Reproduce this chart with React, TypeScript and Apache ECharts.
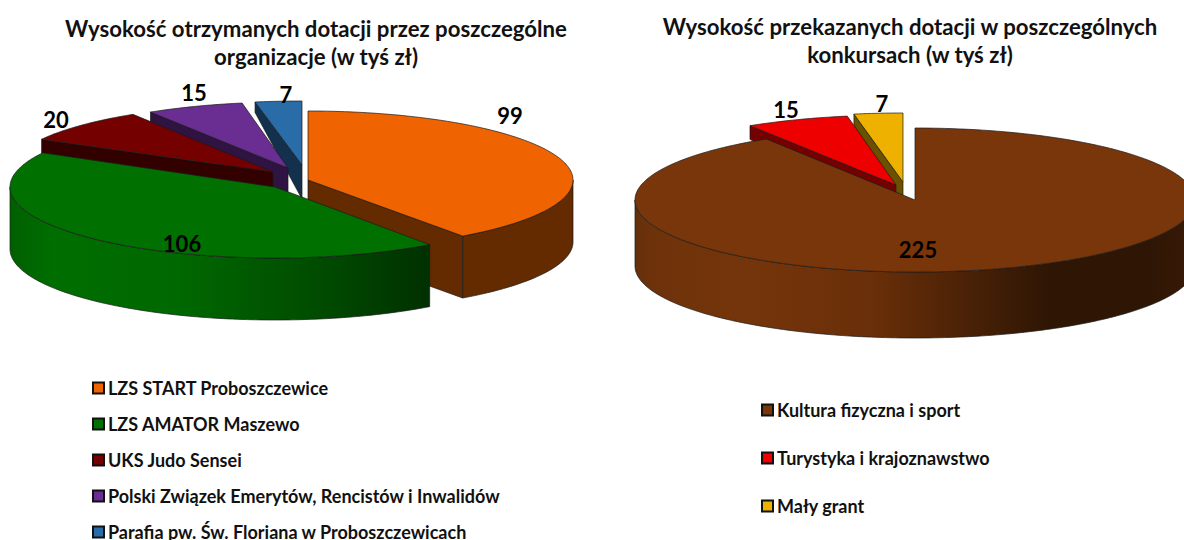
import React, { useEffect, useRef } from "react";
import * as echarts from "echarts";

const leftTitle = "Wysokość otrzymanych dotacji przez poszczególne\norganizacje (w tyś zł)";
const rightTitle = "Wysokość przekazanych dotacji w poszczególnych\nkonkursach (w tyś zł)";
const leftNames = [
  "LZS START Proboszczewice",
  "LZS AMATOR Maszewo",
  "UKS Judo Sensei",
  "Polski Związek Emerytów, Rencistów i Inwalidów",
  "Parafia pw. Św. Floriana w Proboszczewicach",
];
const leftValues = [99, 106, 20, 15, 7];
const rightNames = ["Kultura fizyczna i sport", "Turystyka i krajoznawstwo", "Mały grant"];
const rightValues = [225, 15, 7];

const FONT = "Lato, Carlito, sans-serif";

type Look = {
  cx: number; cy: number; a: number; b: number; top: string; side: string;
  lx: number; ly: number; grad?: [number, number, [number, string][]];
};

const leftLooks: Look[] = [
  { cx: 308, cy: 180, a: 265, b: 69, top: "#EF6300", side: "#642A00", lx: 510, ly: 115 },
  {
    cx: 275, cy: 187, a: 265, b: 71, top: "#007000", side: "#005000", lx: 182, ly: 243,
    grad: [11, 431, [[0, "#006000"], [0.1, "#006E00"], [0.4, "#006800"], [0.75, "#004A00"], [1, "#003000"]]],
  },
  { cx: 273, cy: 172, a: 264, b: 68, top: "#750000", side: "#330000", lx: 56, ly: 119 },
  { cx: 288, cy: 168, a: 259, b: 66, top: "#6A2D91", side: "#2F1343", lx: 194, ly: 92 },
  { cx: 302, cy: 165, a: 265, b: 64, top: "#2A6CA8", side: "#13314D", lx: 286, ly: 94 },
];
const rightLooks: Look[] = [
  {
    cx: 915, cy: 200, a: 280, b: 72, top: "#79360B", side: "#5A2808", lx: 918, ly: 249,
    grad: [635, 1195, [[0, "#64300A"], [0.03, "#6E320A"], [0.2, "#75350B"], [0.42, "#6A2F09"], [0.74, "#2F1604"], [0.92, "#2F1604"], [1, "#381A06"]]],
  },
  { cx: 896, cy: 185, a: 275, b: 70, top: "#EE0000", side: "#750000", lx: 786, ly: 109 },
  { cx: 903, cy: 182, a: 277, b: 69, top: "#EEB100", side: "#6B5000", lx: 882, ly: 103 },
];

const LINE = "#1a1a1a";
const rad = (d: number) => (d * Math.PI) / 180;

function pieSeries(names: string[], values: number[], looks: Look[], depth: number, order: number[]) {
  const total = values.reduce((s, v) => s + v, 0);
  const starts: number[] = [];
  let run = 0;
  values.forEach((v) => {
    starts.push((run / total) * 360);
    run += v;
  });
  const APEX_DEPTH = 34;
  const FAR_DEPTH = 10;
  return order.map((i, k) => {
    const look = looks[i];
    const start = starts[i];
    const end = start + (values[i] / total) * 360;
    const pt = (t: number, dy = 0): number[] => [
      look.cx + look.a * Math.sin(rad(t)),
      look.cy - look.b * Math.cos(rad(t)) + dy,
    ];
    const arc = (t0: number, t1: number, dy = 0) => {
      const out: number[][] = [];
      const n = Math.max(2, Math.ceil(Math.abs(t1 - t0)));
      for (let j = 0; j <= n; j++) out.push(pt(t0 + ((t1 - t0) * j) / n, dy));
      return out;
    };
    const rimDepth = (t: number) => {
      const v = -Math.cos(rad(t));
      return v >= 0 ? depth : FAR_DEPTH + (APEX_DEPTH - FAR_DEPTH) * (1 + v);
    };
    const sideFace = (t: number) => {
      const d = rimDepth(t);
      const apexD = d >= depth ? depth : APEX_DEPTH;
      return {
        type: "polygon",
        shape: { points: [pt(t), [look.cx, look.cy], [look.cx, look.cy + apexD], pt(t, d)] },
        style: { fill: look.side, stroke: LINE, lineWidth: 0.7 },
      };
    };
    return {
      type: "custom",
      name: names[i],
      coordinateSystem: "none",
      silent: true,
      clip: false,
      z: 2 + k,
      itemStyle: { color: look.top },
      data: [[values[i]]],
      renderItem: () => {
        const children: any[] = [];
        if (start > 180) children.push(sideFace(start));
        if (end < 180) children.push(sideFace(end));
        const w0 = Math.max(start, 90);
        const w1 = Math.min(end, 270);
        if (w1 > w0) {
          const fill = look.grad
            ? new echarts.graphic.LinearGradient(
                look.grad[0], 0, look.grad[1], 0,
                look.grad[2].map(([offset, color]) => ({ offset, color })),
                true
              )
            : look.side;
          children.push({
            type: "polygon",
            shape: { points: [...arc(w0, w1), ...arc(w1, w0, depth)] },
            style: { fill, stroke: LINE, lineWidth: 0.7 },
          });
        }
        children.push({
          type: "polygon",
          shape: { points: [[look.cx, look.cy], ...arc(start, end)] },
          style: { fill: look.top, stroke: LINE, lineWidth: 0.7 },
        });
        children.push({
          type: "text",
          z2: 50,
          style: {
            text: String(values[i]),
            x: look.lx,
            y: look.ly,
            fill: "#000",
            font: `bold 22px ${FONT}`,
            align: "center",
            verticalAlign: "middle",
          },
        });
        return { type: "group", children };
      },
    };
  });
}

function legendOf(names: string[], looks: Look[], left: number, top: number, gap: number) {
  return {
    show: true,
    orient: "vertical",
    left,
    top,
    height: 300,
    padding: 0,
    itemWidth: 11,
    itemHeight: 11,
    itemGap: gap,
    selectedMode: false,
    textStyle: { fontFamily: FONT, fontWeight: "bold", fontSize: 18, color: "#111", lineHeight: 16, padding: [0, 0, 0, -1] },
    data: names.map((name, i) => ({
      name,
      icon: "rect",
      itemStyle: { color: looks[i].top, borderColor: "#111", borderWidth: 2 },
    })),
  };
}

export default function App() {
  const ref = useRef<HTMLDivElement>(null);
  useEffect(() => {
    const chart = echarts.init(ref.current!, undefined, { renderer: "svg" });
    const titleText = { fontFamily: FONT, fontWeight: "bold", fontSize: 22.2, lineHeight: 28, color: "#111" };
    chart.setOption({
      animation: false,
      backgroundColor: "#fff",
      title: [
        { text: leftTitle, left: 316, top: 14, textAlign: "center", padding: 0, textStyle: titleText },
        { text: rightTitle, left: 910, top: 12, textAlign: "center", padding: 0, textStyle: titleText },
      ],
      legend: [
        legendOf(leftNames, leftLooks, 92, 379, 18),
        legendOf(rightNames, rightLooks, 761, 401, 30),
      ],
      series: [
        ...pieSeries(leftNames, leftValues, leftLooks, 62, [4, 3, 2, 0, 1]),
        ...pieSeries(rightNames, rightValues, rightLooks, 66, [2, 1, 0]),
      ],
    });
    return () => chart.dispose();
  }, []);
  return (
    <div
      ref={ref}
      style={{ position: "fixed", left: 0, top: 0, width: 1184, height: 540, overflow: "hidden" }}
    />
  );
}
